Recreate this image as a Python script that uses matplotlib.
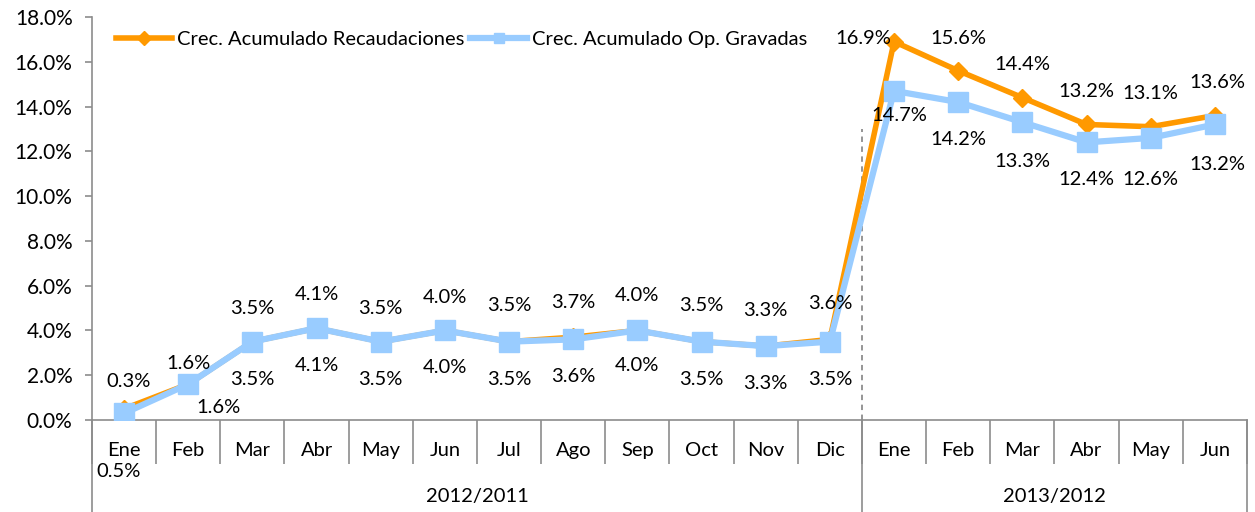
import matplotlib
matplotlib.use("Agg")
import matplotlib.pyplot as plt
from matplotlib.lines import Line2D
from matplotlib.ticker import FuncFormatter, FixedLocator
import matplotlib.transforms as mtransforms

plt.rcParams['font.family'] = ['Lato', 'DejaVu Sans']

months = ["Ene", "Feb", "Mar", "Abr", "May", "Jun", "Jul", "Ago", "Sep", "Oct", "Nov", "Dic",
          "Ene", "Feb", "Mar", "Abr", "May", "Jun"]
groups = ["2012/2011", "2013/2012"]
group_sizes = [12, 6]

recaudaciones = [0.5, 1.6, 3.5, 4.1, 3.5, 4.0, 3.5, 3.7, 4.0, 3.5, 3.3, 3.6,
                 16.9, 15.6, 14.4, 13.2, 13.1, 13.6]
op_gravadas = [0.3, 1.6, 3.5, 4.1, 3.5, 4.0, 3.5, 3.6, 4.0, 3.5, 3.3, 3.5,
               14.7, 14.2, 13.3, 12.4, 12.6, 13.2]

name_rec = "Crec. Acumulado Recaudaciones"
name_op = "Crec. Acumulado Op. Gravadas"

ORANGE = "#FF9900"
BLUE = "#99CCFF"
GRAY = "#8C8C8C"
FS = 14.5

fig = plt.figure(figsize=(12.55, 5.12), dpi=100)
ax = fig.add_axes([0.0733, 0.1797, 0.9203, 0.7871])

x = list(range(len(months)))
ax.plot(x, recaudaciones, color=ORANGE, lw=4, marker="D", ms=9.5, zorder=3,
        label=name_rec)
ax.plot(x, op_gravadas, color=BLUE, lw=4.5, marker="s", ms=14, zorder=4,
        label=name_op)

ax.set_xlim(-0.5, len(months) - 0.5)
ax.set_ylim(0, 18)
ax.set_yticks(range(0, 19, 2))
ax.yaxis.set_major_formatter(FuncFormatter(lambda v, p: f"{v:.1f}%"))
ax.tick_params(axis="y", length=5, width=1.2, color=GRAY, labelsize=15, pad=9)

# Category axis: boundary ticks + centred labels
ax.xaxis.set_major_locator(FixedLocator([i - 0.5 for i in range(len(months) + 1)]))
ax.xaxis.set_minor_locator(FixedLocator(x))
ax.xaxis.set_major_formatter(FuncFormatter(lambda v, p: ""))
ax.set_xticklabels(months, minor=True)
ax.tick_params(axis="x", which="major", length=32, width=1.2, color=GRAY, direction="out")
ax.tick_params(axis="x", which="minor", length=0, labelsize=FS, pad=16)

for side in ["top", "right"]:
    ax.spines[side].set_visible(False)
for side in ["left", "bottom"]:
    ax.spines[side].set_color(GRAY)
    ax.spines[side].set_linewidth(1.2)

# Group separators and labels below the month row
trans = mtransforms.blended_transform_factory(ax.transData, fig.transFigure)
bottom_axes = 0.1797
bounds = [-0.5]
for n in group_sizes:
    bounds.append(bounds[-1] + n)
for b in bounds:
    fig.add_artist(Line2D([b, b], [0, bottom_axes], transform=trans, color=GRAY, lw=1.2,
                          clip_on=False))
for g, a, b in zip(groups, bounds[:-1], bounds[1:]):
    fig.text((a + b) / 2, 0.03, g, transform=trans, ha="center", va="center", fontsize=FS)

# Dashed separator between years
ax.plot([11.5, 11.5], [0, 13.0], color=GRAY, lw=1.3, ls=(0, (3, 2.5)), zorder=2)

# Data labels (offsets in points)
rec_off = [(-4, -45), (0, 15), (0, 24), (0, 24), (0, 24), (0, 24), (0, 26), (0, 25),
           (0, 25), (0, 26), (0, 26), (0, 26),
           (-22, 2), (0, 23), (0, 24), (0, 24), (0, 24), (2, 24)]
op_off = [(3, 23), (22, -17), (0, -27), (0, -27), (0, -27), (0, -27), (0, -27), (0, -27),
          (0, -25), (0, -27), (0, -27), (0, -27),
          (4, -18), (0, -27), (0, -28), (0, -27), (0, -30), (2, -29)]
for i in x:
    ax.annotate(f"{recaudaciones[i]:.1f}%", (i, recaudaciones[i]), xytext=rec_off[i],
                textcoords="offset points", ha="center", va="center", fontsize=FS,
                annotation_clip=False, zorder=5)
    ax.annotate(f"{op_gravadas[i]:.1f}%", (i, op_gravadas[i]), xytext=op_off[i],
                textcoords="offset points", ha="center", va="center", fontsize=FS,
                annotation_clip=False, zorder=5)

leg = ax.legend(loc="upper left", bbox_to_anchor=(0.01, 0.995), ncol=2, frameon=False,
                fontsize=FS, handlelength=2.8, handletextpad=0.25, columnspacing=0.3,
                borderaxespad=0.2)
for h in leg.legend_handles:
    h.set_markersize(7)

fig.savefig("out.png", dpi=100)
